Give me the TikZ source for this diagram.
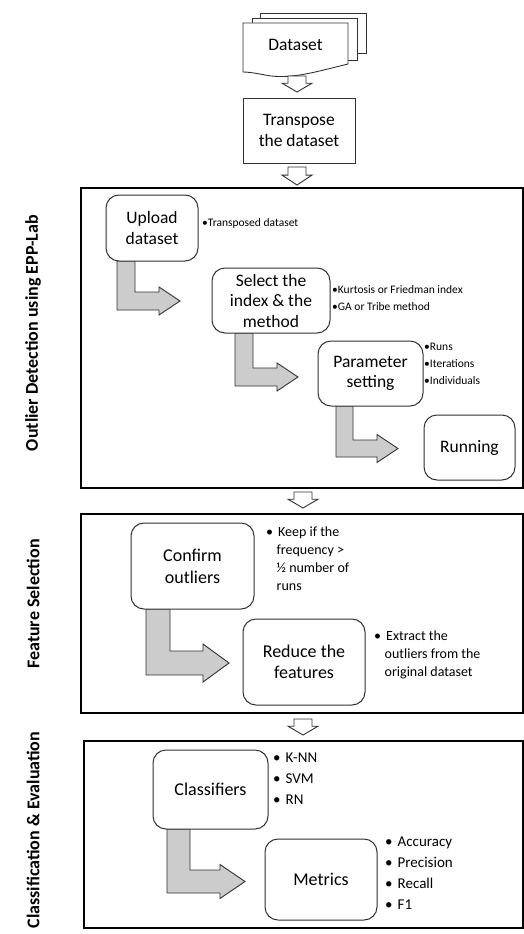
\documentclass[tikz,border=0pt]{standalone}
\usepackage{fontspec}
\setmainfont{Carlito}
\definecolor{arrgray}{RGB}{204,204,204}
\definecolor{edge}{RGB}{50,50,50}
\tikzset{
  panel/.style={draw=black, line width=1.1pt},
  sqbox/.style={draw=edge, line width=1pt, fill=white, align=center, font=\fontsize{17.5}{21.5}\selectfont},
  rbox/.style={draw=edge, line width=1pt, rounded corners=13pt, fill=white, align=center, font=\fontsize{17.5}{20.5}\selectfont},
  bigtext/.style={font=\fontsize{17.5}{21.5}\selectfont},
  bulA/.style={align=left, anchor=west, inner sep=0pt, font=\fontsize{11.5}{17}\selectfont},
  bulB/.style={align=left, anchor=north west, inner sep=0pt, font=\fontsize{14}{18}\selectfont},
  bulC/.style={align=left, anchor=north west, inner sep=0pt, font=\fontsize{15}{21}\selectfont},
  sidelabel/.style={rotate=90, font=\bfseries\fontsize{18}{21}\selectfont},
  hollow/.style={draw=edge, line width=0.9pt, fill=white},
  bent/.style={draw=edge, line width=0.9pt, fill=arrgray},
  doc/.style={draw=edge, line width=0.9pt, fill=white}
}
\newcommand\hollowdown[3]{%
  \draw[hollow] ({#1-9},#2) -- ({#1+9},#2) -- ({#1+9},{#2+(#3-#2)*0.45}) -- ({#1+15},{#2+(#3-#2)*0.45}) -- (#1,#3) -- ({#1-15},{#2+(#3-#2)*0.45}) -- ({#1-9},{#2+(#3-#2)*0.45}) -- cycle;}
\newcommand\bentarr[7]{%
  \draw[bent] (#1,#3) -- ({#1+#2},#3) -- ({#1+#2},{#4-#2}) -- (#5,{#4-#2}) -- (#5,{#4-#2/2-#7}) -- (#6,{#4-#2/2}) -- (#5,{#4-#2/2+#7}) -- (#5,#4) -- (#1,#4) -- cycle;}
\begin{document}
\begin{tikzpicture}[x=1pt,y=-1pt]
\useasboundingbox (0,0) rectangle (524,934);
\fill[white] (0,0) rectangle (524,934);

% Dataset multi-document
\draw[doc] (357,53) -- (366,53) -- (366,13) -- (260,13) -- (260,18);
\draw[doc] (348,60) -- (357,60) -- (357,18) -- (252,18) -- (252,23);
\draw[doc] (243,23) -- (348,23) -- (348,64) .. controls (315,72) and (290,80) .. (265,75) .. controls (255,73) and (248,72) .. (243,72) -- cycle;
\node[bigtext] (dataset) at (295.5,45) {Dataset};

\hollowdown{297}{76}{92}
\node[sqbox, minimum width=112pt, minimum height=65pt] (transpose) at (299,130.5) {Transpose\\the dataset};
\hollowdown{297}{167}{185}

% Panel 1
\draw[panel] (81,188) rectangle (523,488);
\node[sidelabel] (lab1) at (33,333) {Outlier Detection using EPP-Lab};
\bentarr{117}{18}{261}{310}{159}{180}{14}
\bentarr{235}{18}{333}{386}{277}{298}{14}
\bentarr{336}{17}{406}{457}{377}{398}{14}
\node[rbox, minimum width=92pt, minimum height=66pt] (upload) at (152,228) {Upload\\dataset};
\node[rbox, minimum width=118pt, minimum height=65pt] (select) at (271,300.5) {Select the\\index \& the\\method};
\node[rbox, minimum width=105pt, minimum height=65pt] (param) at (370.5,373.5) {Parameter\\setting};
\node[rbox, minimum width=91pt, minimum height=65pt] (running) at (469.5,447.5) {Running};
\node[bulA] (b1) at (202,223) {•Transposed dataset};
\node[bulA] (b2) at (332,298.5) {•Kurtosis or Friedman index\\•GA or Tribe method};
\node[bulA] (b3) at (424,363.5) {•Runs\\•Iterations\\•Individuals};

\hollowdown{303}{492}{508}

% Panel 2
\draw[panel] (81,514) rectangle (523,713);
\node[sidelabel] (lab2) at (33,604) {Feature Selection};
\bentarr{146}{24}{609}{675}{203}{229}{19}
\node[rbox, minimum width=123pt, minimum height=86pt, font=\fontsize{18}{22}\selectfont] (confirm) at (192.5,566) {Confirm\\outliers};
\node[rbox, minimum width=122pt, minimum height=86pt, font=\fontsize{18}{21}\selectfont] (reduce) at (304,662) {Reduce the\\features};
\node[bulB] (b4) at (266,527) {•\hspace{5pt}Keep if the\\\hspace*{10.5pt}frequency >\\\hspace*{10.5pt}½ number of\\\hspace*{10.5pt}runs};
\node[bulB] (b5) at (374,630.5) {•\hspace{5pt}Extract the\\\hspace*{10.5pt}outliers from the\\\hspace*{10.5pt}original dataset};

\hollowdown{303}{719}{735}

% Panel 3
\draw[panel] (84,741) rectangle (523,928);
\node[sidelabel] (lab3) at (33,830) {Classification \& Evaluation};
\bentarr{167}{23}{829}{893}{220}{245}{17}
\node[rbox, minimum width=115pt, minimum height=79pt, font=\fontsize{18}{21}\selectfont] (classif) at (210.5,789.5) {Classifiers};
\node[rbox, minimum width=112pt, minimum height=81pt, font=\fontsize{18}{21}\selectfont] (metrics) at (321,879.5) {Metrics};
\node[bulC] (b6) at (273,753) {•\hspace{5pt}K-NN\\•\hspace{5pt}SVM\\•\hspace{5pt}RN};
\node[bulC] (b7) at (385,837) {•\hspace{5pt}Accuracy\\•\hspace{5pt}Precision\\•\hspace{5pt}Recall\\•\hspace{5pt}F1};
\end{tikzpicture}
\end{document}
